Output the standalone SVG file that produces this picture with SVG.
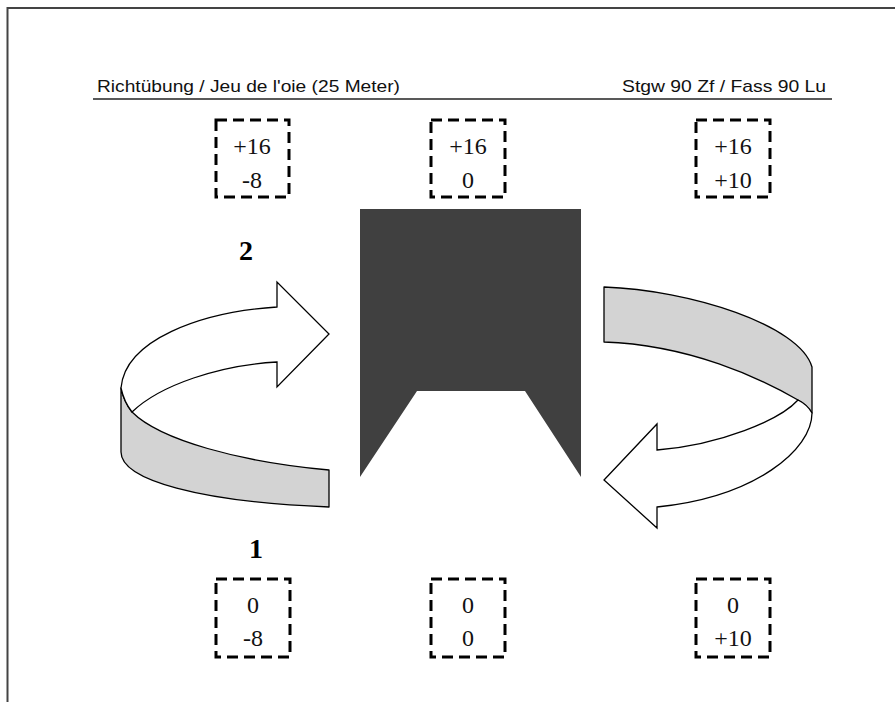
<svg xmlns="http://www.w3.org/2000/svg" width="895" height="702" viewBox="0 0 895 702">
<style>
.frame{stroke:#444;stroke-width:2;fill:none}
.box{fill:none;stroke:#000;stroke-width:3;stroke-dasharray:11 6}
.num{font-family:"Liberation Serif","Times New Roman",serif;font-size:24px;fill:#111;text-anchor:middle}
.lbl{font-family:"Liberation Serif","Times New Roman",serif;font-size:28px;font-weight:bold;fill:#000;text-anchor:middle}
.hdr{font-family:"Liberation Sans",Arial,sans-serif;font-size:17px;fill:#111}
.band{fill:#d3d3d3;stroke:#000;stroke-width:1.3;stroke-linejoin:round}
.rib{fill:#fff;stroke:#000;stroke-width:1.3;stroke-linejoin:miter}
</style>
<rect width="895" height="702" fill="#fff"/>
<path class="frame" d="M7.5,702 L7.5,8 L895,8"/>
<g id="header">
<text class="hdr" x="97" y="92" textLength="303" lengthAdjust="spacingAndGlyphs">Richtübung / Jeu de l'oie (25 Meter)</text>
<text class="hdr" x="622" y="92" textLength="204" lengthAdjust="spacingAndGlyphs">Stgw 90 Zf / Fass 90 Lu</text>
<line x1="93" y1="99" x2="832" y2="99" stroke="#222" stroke-width="1.5"/>
</g>
<g id="target">
<path d="M360,209 L581,209 L581,477 L525,391 L417,391 L360,477 Z" fill="#404040"/>
</g>
<g id="box-top-left">
<rect class="box" x="216" y="120" width="73" height="77"/>
<text class="num" x="252" y="154">+16</text>
<text class="num" x="252" y="188">-8</text>
</g>
<g id="box-top-center">
<rect class="box" x="431" y="120" width="74" height="77"/>
<text class="num" x="468" y="154">+16</text>
<text class="num" x="468" y="188">0</text>
</g>
<g id="box-top-right">
<rect class="box" x="696" y="120" width="74" height="77"/>
<text class="num" x="733" y="154">+16</text>
<text class="num" x="733" y="188">+10</text>
</g>
<g id="box-bottom-left">
<rect class="box" x="216" y="579" width="74" height="78"/>
<text class="num" x="253" y="613">0</text>
<text class="num" x="253" y="646">-8</text>
</g>
<g id="box-bottom-center">
<rect class="box" x="431" y="579" width="74" height="78"/>
<text class="num" x="468" y="613">0</text>
<text class="num" x="468" y="646">0</text>
</g>
<g id="box-bottom-right">
<rect class="box" x="696" y="579" width="74" height="78"/>
<text class="num" x="733" y="613">0</text>
<text class="num" x="733" y="646">+10</text>
</g>
<g id="label-2"><text class="lbl" x="246" y="260">2</text></g>
<g id="label-1"><text class="lbl" x="256" y="558">1</text></g>
<g id="connectors">
<g id="arrow-left">
<path class="band" d="M121,388 L121,452 C121,480 200,502 329,507 L329,470 C240,462 160,440 132,412 Q124,402 121,388 Z"/>
<path class="rib" d="M277,307 C200,312 125,340 121,388 Q124,402 132,412 C160,385 220,365 277,362 L277,387 L329,334 L277,282 Z"/>
</g>
<g id="arrow-right">
<path class="band" d="M604,287 C690,290 800,325 812,367 L812,413 Q806,404 798,400 C760,378 690,345 604,342 Z"/>
<path class="rib" d="M798,400 Q808,405 812,413 C812,450 755,497 657,507 L657,528 L604,480 L657,424 L657,450 C720,445 780,420 798,400 Z"/>
</g>
</g>
</svg>
